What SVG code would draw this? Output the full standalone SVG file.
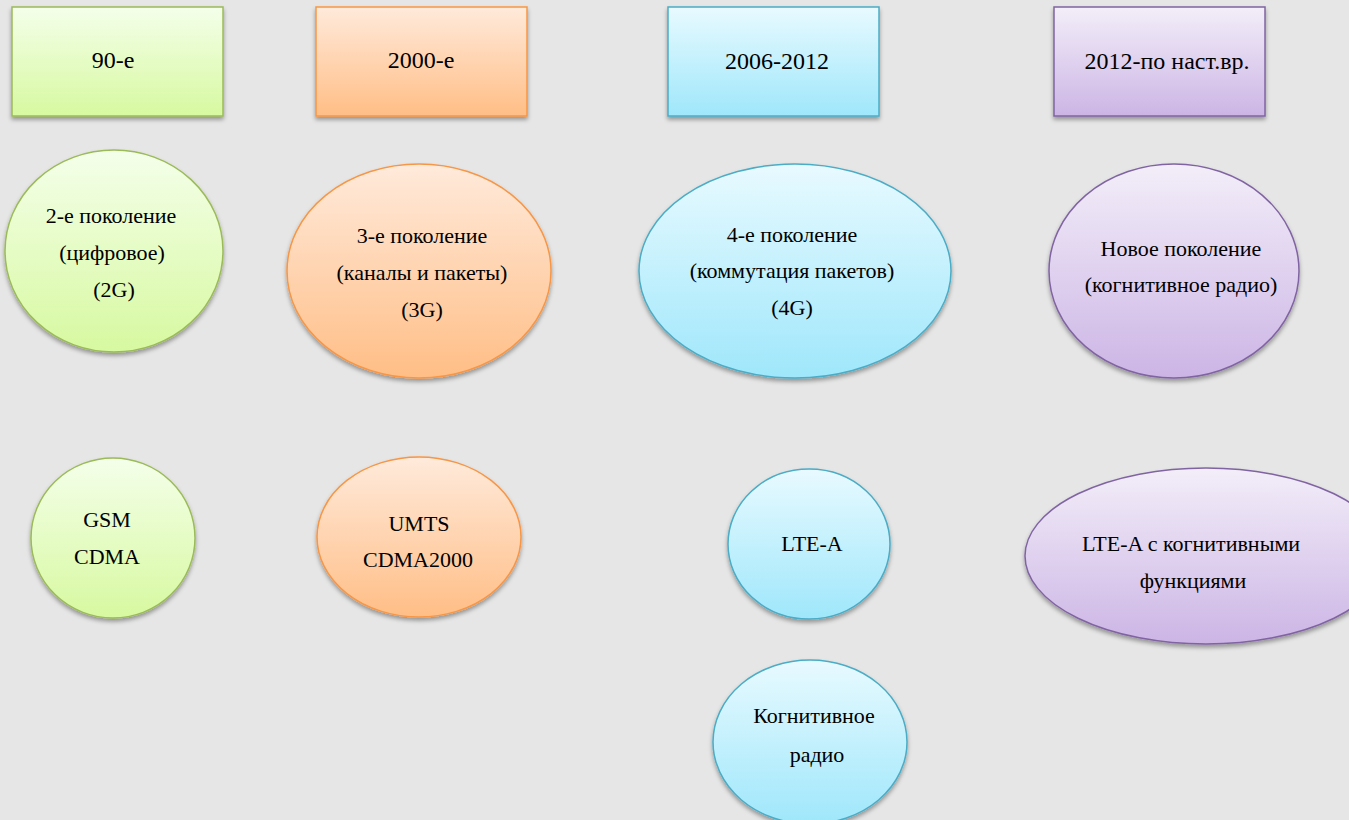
<svg xmlns="http://www.w3.org/2000/svg" width="1349" height="820" viewBox="0 0 1349 820">
<defs>
<linearGradient id="gG" x1="0" y1="0" x2="0" y2="1"><stop offset="0" stop-color="#f4ffea"/><stop offset="1" stop-color="#d7f9a0"/></linearGradient>
<linearGradient id="gO" x1="0" y1="0" x2="0" y2="1"><stop offset="0" stop-color="#ffeadb"/><stop offset="1" stop-color="#ffbe86"/></linearGradient>
<linearGradient id="gB" x1="0" y1="0" x2="0" y2="1"><stop offset="0" stop-color="#e8faff"/><stop offset="1" stop-color="#9fe7fb"/></linearGradient>
<linearGradient id="gP" x1="0" y1="0" x2="0" y2="1"><stop offset="0" stop-color="#f3eef9"/><stop offset="1" stop-color="#ccb5e5"/></linearGradient>
<filter id="sh" x="-10%" y="-10%" width="120%" height="130%"><feDropShadow dx="0" dy="3" stdDeviation="2" flood-color="#000" flood-opacity="0.35"/></filter>
</defs>
<style>
.g{fill:url(#gG);stroke:#9bbb59;stroke-width:1.5;filter:url(#sh)}
.o{fill:url(#gO);stroke:#f79646;stroke-width:1.5;filter:url(#sh)}
.b{fill:url(#gB);stroke:#4bacc6;stroke-width:1.5;filter:url(#sh)}
.p{fill:url(#gP);stroke:#8064a2;stroke-width:1.5;filter:url(#sh)}
text{font-family:"Liberation Serif","Times New Roman",serif;fill:#000;text-anchor:middle}
.h{font-size:24px}
.t{font-size:22px}
</style>
<rect width="1349" height="820" fill="#e6e6e6"/>
<g id="connectors"></g>
<g id="box-90"><rect class="g" x="12" y="7" width="211" height="109"/><text class="h" x="113" y="68">90-е</text></g>
<g id="box-2000"><rect class="o" x="316" y="7" width="211" height="109"/><text class="h" x="421" y="68">2000-е</text></g>
<g id="box-2006"><rect class="b" x="668" y="7" width="211" height="109"/><text class="h" x="777" y="69">2006-2012</text></g>
<g id="box-2012"><rect class="p" x="1054" y="7" width="211" height="109"/><text class="h" x="1167" y="69">2012-по наст.вр.</text></g>
<g id="gen-2g"><ellipse class="g" cx="114" cy="251" rx="109" ry="101"/><text class="t" x="111" y="223">2-е поколение</text><text class="t" x="112" y="260">(цифровое)</text><text class="t" x="114" y="297">(2G)</text></g>
<g id="gen-3g"><ellipse class="o" cx="419" cy="271" rx="132" ry="107"/><text class="t" x="422" y="243">3-е поколение</text><text class="t" x="422" y="280">(каналы и пакеты)</text><text class="t" x="422" y="317">(3G)</text></g>
<g id="gen-4g"><ellipse class="b" cx="795" cy="271" rx="156" ry="107"/><text class="t" x="792" y="242">4-е поколение</text><text class="t" x="792" y="278">(коммутация пакетов)</text><text class="t" x="792" y="315">(4G)</text></g>
<g id="gen-new"><ellipse class="p" cx="1174" cy="271" rx="125" ry="107"/><text class="t" x="1181" y="256">Новое поколение</text><text class="t" x="1181" y="292">(когнитивное радио)</text></g>
<g id="tech-gsm"><ellipse class="g" cx="113" cy="538" rx="82" ry="80"/><text class="t" x="107" y="527">GSM</text><text class="t" x="107" y="564">CDMA</text></g>
<g id="tech-umts"><ellipse class="o" cx="419" cy="537" rx="102" ry="80"/><text class="t" x="419" y="531">UMTS</text><text class="t" x="418" y="567">CDMA2000</text></g>
<g id="tech-lte"><ellipse class="b" cx="809" cy="544" rx="81" ry="75"/><text class="t" x="812" y="551">LTE-A</text></g>
<g id="tech-lte-cog"><ellipse class="p" cx="1206" cy="556" rx="181" ry="88"/><text class="t" x="1191" y="551">LTE-A с когнитивными</text><text class="t" x="1193" y="588">функциями</text></g>
<g id="tech-cr"><ellipse class="b" cx="810" cy="742" rx="97" ry="82"/><text class="t" x="814" y="723">Когнитивное</text><text class="t" x="817" y="762">радио</text></g>
</svg>
